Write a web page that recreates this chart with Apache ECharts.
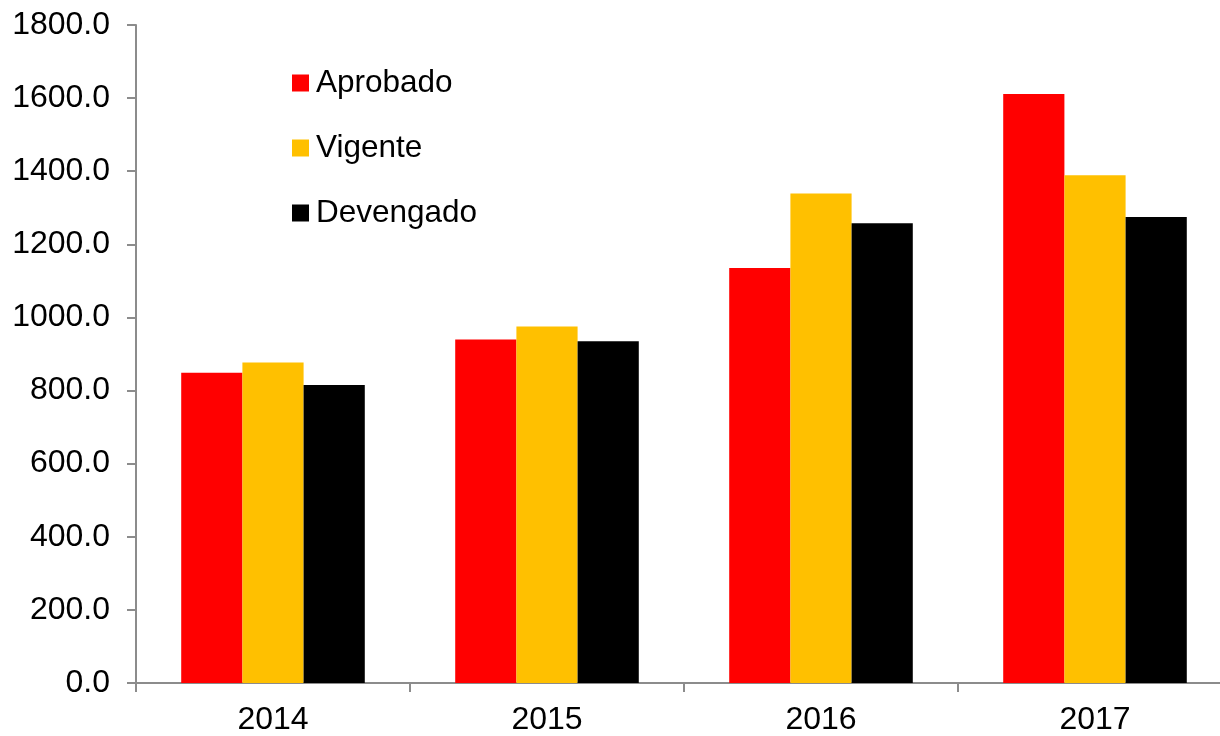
<!DOCTYPE html>
<html>
<head>
<meta charset="utf-8">
<script src="https://cdn.jsdelivr.net/npm/echarts@6/dist/echarts.min.js"></script>
<style>
  html, body { margin: 0; padding: 0; background: #fff; }
  #chart { width: 1220px; height: 736px; }
</style>
</head>
<body>
<div id="chart"></div>
<script>
// datos
var years = ['2014', '2015', '2016', '2017'];
var aprobado = [849, 940, 1135, 1611];
var vigente = [877, 975, 1339, 1389];
var devengado = [815, 935, 1258, 1275];
var yTicks = { min: 0, max: 1800, step: 200 };

var axisGray = '#8c8c8c';
var fontFam = 'Liberation Sans, Arial, sans-serif';

var chart = echarts.init(document.getElementById('chart'));

var option = {
  backgroundColor: '#fff',
  animation: false,
  grid: {
    left: 136,
    right: -12,
    top: 25,
    bottom: 53,
    containLabel: false,
    outerBoundsMode: 'none'
  },
  legend: {
    orient: 'vertical',
    left: 287,
    top: 62,
    itemWidth: 17,
    itemHeight: 17,
    itemGap: 33,
    icon: 'rect',
    data: ['Aprobado', 'Vigente', 'Devengado'],
    textStyle: {
      color: '#000',
      fontSize: 31.5,
      lineHeight: 32,
      fontFamily: fontFam,
      padding: [0, 0, 0, 2]
    }
  },
  xAxis: {
    type: 'category',
    data: years,
    axisLine: { lineStyle: { color: axisGray, width: 2 } },
    axisTick: { show: true, length: 9, lineStyle: { color: axisGray, width: 2 } },
    axisLabel: { color: '#000', fontSize: 32, fontFamily: fontFam, margin: 21 },
    splitLine: { show: false }
  },
  yAxis: {
    type: 'value',
    min: yTicks.min,
    max: yTicks.max,
    interval: yTicks.step,
    axisLine: { show: true, lineStyle: { color: axisGray, width: 2 } },
    axisTick: { show: true, length: 9, lineStyle: { color: axisGray, width: 2 } },
    axisLabel: {
      color: '#000',
      fontSize: 32,
      fontFamily: fontFam,
      margin: 26,
      formatter: function (v) { return v.toFixed(1); }
    },
    splitLine: { show: false }
  },
  series: [
    { name: 'Aprobado', type: 'bar', data: aprobado, itemStyle: { color: '#ff0000' }, barGap: 0, barCategoryGap: '33%' },
    { name: 'Vigente', type: 'bar', data: vigente, itemStyle: { color: '#ffc000' }, barGap: 0, barCategoryGap: '33%' },
    { name: 'Devengado', type: 'bar', data: devengado, itemStyle: { color: '#000000' }, barGap: 0, barCategoryGap: '33%' }
  ]
};

chart.setOption(option);
</script>
</body>
</html>
